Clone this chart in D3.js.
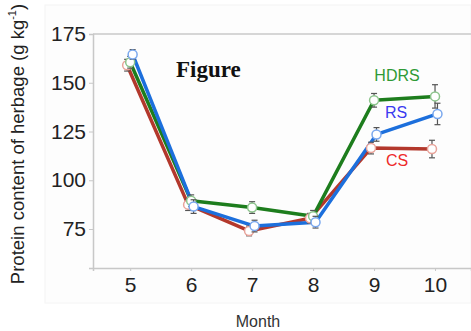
<!DOCTYPE html>
<html>
<head>
<meta charset="utf-8">
<script src="https://cdn.jsdelivr.net/npm/d3@7"></script>
<style>
  body { margin: 0; background: #fff; }
  svg { display: block; font-family: Arial, "Liberation Sans", sans-serif; }
</style>
</head>
<body>
<svg id="chart" width="471" height="331"></svg>
<script>
// months on the x axis
const months = [5, 6, 7, 8, 9, 10];
const yTicks = [75, 100, 125, 150, 175];

// protein content per treatment (g/kg) and its error
const csValues = [159, 87.5, 74, 80.5, 116.5, 116];
const csErrors = [3, 3, 2.5, 2.5, 3, 4.5];
const hdrsValues = [160.5, 89.5, 86, 81.5, 141, 143];
const hdrsErrors = [3, 3, 3, 3, 3.5, 6];
const rsValues = [164.5, 86.5, 76.5, 78.5, 123.5, 134];
const rsErrors = [2.5, 3.5, 3, 3, 3.5, 5.5];

const series = [
  { name: 'CS', values: csValues, errors: csErrors, dodge: -0.05,
    line: '#b3382c', dot: '#e8a39a', label: '#ee2a2a', labelPos: [397, 166] },
  { name: 'HDRS', values: hdrsValues, errors: hdrsErrors, dodge: 0,
    line: '#1d7d1d', dot: '#8cc48c', label: '#2e9a36', labelPos: [397, 81] },
  { name: 'RS', values: rsValues, errors: rsErrors, dodge: 0.04,
    line: '#1c6fdc', dot: '#7aa8ee', label: '#3a3af0', labelPos: [396, 118] },
];

const svg = d3.select('#chart');

// faint panel behind the plot
svg.append('rect')
  .attr('x', 45).attr('y', 5).attr('width', 426).attr('height', 298)
  .attr('fill', '#fdfdfd').attr('stroke', '#f4f4f4');

const x = d3.scaleLinear().domain([4.39, 10.59]).range([93, 471]);
const y = d3.scaleLinear().domain([55, 175]).range([268, 34]);

const axisColor = '#c8c8c8';

const xAxis = svg.append('g')
  .attr('transform', `translate(0,${y(55)})`)
  .call(d3.axisBottom(x).tickValues(months).tickFormat(d3.format('d'))
    .tickSize(3).tickPadding(6));
xAxis.select('.domain').attr('stroke', axisColor).attr('stroke-width', 1.5);
xAxis.selectAll('.tick line').attr('stroke', axisColor);
xAxis.selectAll('.tick text')
  .attr('fill', '#222').attr('font-size', 21).attr('dy', '0.71em')
  .style('font-family', 'Arial, "Liberation Sans", sans-serif');

const yAxis = svg.append('g')
  .attr('transform', `translate(${x(4.39)},0)`)
  .call(d3.axisLeft(y).tickValues(yTicks).tickFormat(d3.format('d'))
    .tickSize(4).tickPadding(3));
yAxis.select('.domain').attr('stroke', axisColor).attr('stroke-width', 1.5);
yAxis.selectAll('.tick line').attr('stroke', axisColor);
yAxis.selectAll('.tick text')
  .attr('fill', '#222').attr('font-size', 21)
  .style('font-family', 'Arial, "Liberation Sans", sans-serif');

// top border line
svg.append('line')
  .attr('x1', x(4.39)).attr('x2', x(10.59))
  .attr('y1', y(175)).attr('y2', y(175))
  .attr('stroke', axisColor).attr('stroke-width', 1.5);

// axis titles
svg.append('text')
  .attr('x', 258).attr('y', 327)
  .attr('text-anchor', 'middle').attr('font-size', 16).attr('fill', '#333')
  .text('Month');

const yTitle = svg.append('text')
  .attr('transform', 'translate(24,144) rotate(-90)')
  .attr('text-anchor', 'middle').attr('font-size', 18.5).attr('fill', '#222');
yTitle.append('tspan').text('Protein content of herbage (g kg');
yTitle.append('tspan').attr('font-size', 11).attr('dy', -8).text('-1');
yTitle.append('tspan').attr('dy', 8).text(')');

svg.append('text')
  .attr('x', 176).attr('y', 77)
  .attr('font-family', '"Liberation Serif", "Times New Roman", serif')
  .attr('font-weight', 'bold').attr('font-size', 23).attr('fill', '#111')
  .text('Figure');

const line = d3.line()
  .x((d) => x(d.month))
  .y((d) => y(d.value));

const pointsOf = (s) => months.map((m, i) => ({
  month: m + s.dodge, value: s.values[i], err: s.errors[i],
}));

// lines first, then error bars and points
series.forEach((s) => {
  svg.append('path')
    .datum(pointsOf(s))
    .attr('d', line)
    .attr('fill', 'none')
    .attr('stroke', s.line)
    .attr('stroke-width', 3.5)
    .attr('stroke-linejoin', 'round');
});

series.forEach((s) => {
  const g = svg.append('g');
  const pts = pointsOf(s);
  const bars = g.selectAll('.err').data(pts).enter().append('g')
    .attr('stroke', '#555').attr('stroke-width', 1.2);
  bars.append('line')
    .attr('x1', (d) => x(d.month)).attr('x2', (d) => x(d.month))
    .attr('y1', (d) => y(d.value + d.err)).attr('y2', (d) => y(d.value - d.err));
  bars.append('line')
    .attr('x1', (d) => x(d.month) - 3).attr('x2', (d) => x(d.month) + 3)
    .attr('y1', (d) => y(d.value + d.err)).attr('y2', (d) => y(d.value + d.err));
  bars.append('line')
    .attr('x1', (d) => x(d.month) - 3).attr('x2', (d) => x(d.month) + 3)
    .attr('y1', (d) => y(d.value - d.err)).attr('y2', (d) => y(d.value - d.err));

  g.selectAll('circle').data(pts).enter().append('circle')
    .attr('cx', (d) => x(d.month))
    .attr('cy', (d) => y(d.value))
    .attr('r', 4.5)
    .attr('fill', '#fff')
    .attr('stroke', s.dot)
    .attr('stroke-width', 1.5);
});

series.forEach((s) => {
  svg.append('text')
    .attr('x', s.labelPos[0]).attr('y', s.labelPos[1])
    .attr('text-anchor', 'middle').attr('font-size', 16)
    .attr('fill', s.label)
    .text(s.name);
});
</script>
</body>
</html>
